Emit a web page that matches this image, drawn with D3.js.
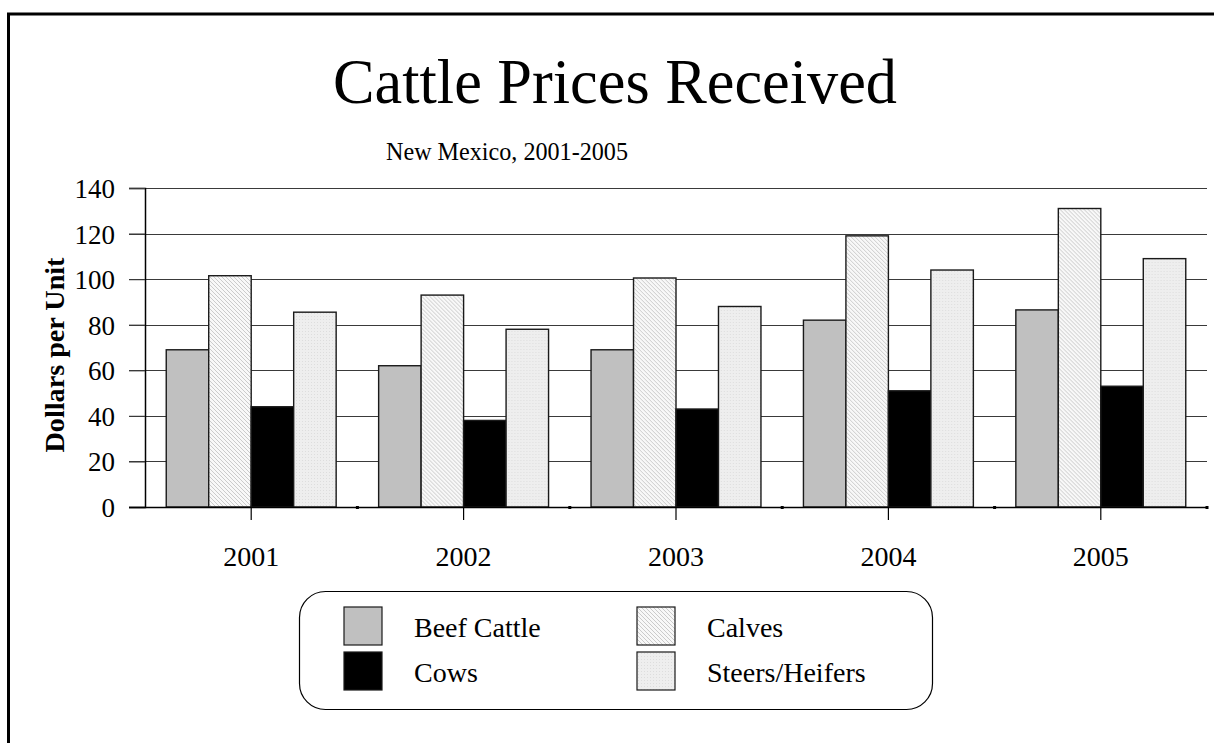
<!DOCTYPE html>
<html>
<head>
<meta charset="utf-8">
<script src="https://cdn.jsdelivr.net/npm/d3@7"></script>
<style>
  body { margin: 0; background: #fff; }
  text { font-family: "Liberation Serif", "DejaVu Serif", serif; fill: #000; }
</style>
</head>
<body>
<svg width="1214" height="743"></svg>
<script>
  const years = ["2001", "2002", "2003", "2004", "2005"];
  const seriesNames = ["Beef Cattle", "Calves", "Cows", "Steers/Heifers"];
  const beefCattle = [69, 62, 69, 82, 86.5];
  const calves = [101.5, 93, 100.5, 119, 131];
  const cows = [44, 38, 43, 51, 53];
  const steersHeifers = [85.5, 78, 88, 104, 109];
  const yTicks = [0, 20, 40, 60, 80, 100, 120, 140];

  const seriesValues = [beefCattle, calves, cows, steersHeifers];
  const fills = ["#c0c0c0", "url(#hatch)", "#000000", "url(#dots)"];

  const svg = d3.select("svg"),
    width = +svg.attr("width"),
    height = +svg.attr("height");

  // patterns for the light bars
  const defs = svg.append("defs");
  let hatch = defs.append("pattern")
    .attr("id", "hatch")
    .attr("patternUnits", "userSpaceOnUse")
    .attr("width", 4).attr("height", 4);
  hatch.append("rect").attr("width", 4).attr("height", 4).attr("fill", "#f8f8f8");
  hatch.append("path").attr("d", "M0,0 L4,4 M-1,3 L1,5 M3,-1 L5,1")
    .attr("stroke", "#cbcbcb").attr("stroke-width", 1);

  let dots = defs.append("pattern")
    .attr("id", "dots")
    .attr("patternUnits", "userSpaceOnUse")
    .attr("width", 3).attr("height", 3);
  dots.append("rect").attr("width", 3).attr("height", 3).attr("fill", "#eeeeee");
  dots.append("rect").attr("x", 1).attr("y", 1).attr("width", 1).attr("height", 1).attr("fill", "#dddddd");

  // outer frame (runs off the page on right and bottom)
  svg.append("rect")
    .attr("x", 8.5).attr("y", 14)
    .attr("width", 1400).attr("height", 900)
    .attr("fill", "none")
    .attr("stroke", "#000")
    .attr("stroke-width", 3);

  // titles
  svg.append("text")
    .attr("x", 615).attr("y", 103)
    .attr("text-anchor", "middle")
    .attr("textLength", 564)
    .attr("lengthAdjust", "spacingAndGlyphs")
    .style("font-size", "64px")
    .text("Cattle Prices Received");

  svg.append("text")
    .attr("x", 507).attr("y", 160)
    .attr("text-anchor", "middle")
    .attr("textLength", 242)
    .attr("lengthAdjust", "spacingAndGlyphs")
    .style("font-size", "25px")
    .text("New Mexico, 2001-2005");

  const x0 = d3.scaleBand().domain(years).range([145, 1207]).padding(0);
  const x1 = d3.scaleBand().domain(seriesNames).range([0, x0.bandwidth()])
    .paddingInner(0).paddingOuter(0.5);
  const y = d3.scaleLinear().domain([0, 140]).range([507, 188]);

  // gridlines + y ticks
  svg.append("g")
    .selectAll("line")
    .data(yTicks.slice(1))
    .enter().append("line")
    .attr("x1", 129).attr("x2", 1207)
    .attr("y1", function(d) { return Math.round(y(d)) + 0.5; })
    .attr("y2", function(d) { return Math.round(y(d)) + 0.5; })
    .attr("stroke", "#3a3a3a")
    .attr("stroke-width", 1.2);

  const yAxis = svg.append("g")
    .attr("transform", "translate(145,0)")
    .call(d3.axisLeft(y).tickValues(yTicks).tickSize(16).tickPadding(14));
  yAxis.select(".domain").attr("stroke", "#000").attr("stroke-width", 1.5);
  yAxis.selectAll(".tick line").attr("stroke", "#3a3a3a").attr("stroke-width", 1.2);
  yAxis.selectAll("text")
    .style("font-family", "'Liberation Serif', serif")
    .style("font-size", "27px")
    .attr("dy", "0.35em");

  svg.append("text")
    .attr("transform", "translate(64,355) rotate(-90)")
    .attr("text-anchor", "middle")
    .attr("textLength", 195)
    .attr("lengthAdjust", "spacingAndGlyphs")
    .style("font-size", "28px")
    .style("font-weight", "bold")
    .text("Dollars per Unit");

  // bars
  let groups = svg.append("g")
    .selectAll("g")
    .data(years)
    .enter().append("g")
    .attr("transform", function(d) { return "translate(" + x0(d) + ",0)"; });

  groups.selectAll("rect")
    .data(function(d, i) {
      return seriesNames.map(function(s, j) {
        return { name: s, value: seriesValues[j][i], fill: fills[j] };
      });
    })
    .enter().append("rect")
    .attr("x", function(d) { return x1(d.name); })
    .attr("y", function(d) { return y(d.value); })
    .attr("width", x1.bandwidth())
    .attr("height", function(d) { return y(0) - y(d.value); })
    .attr("fill", function(d) { return d.fill; })
    .attr("stroke", "#1a1a1a")
    .attr("stroke-width", 1.4);

  // x axis line and ticks
  svg.append("line")
    .attr("x1", 129).attr("x2", 1207)
    .attr("y1", 507.5).attr("y2", 507.5)
    .attr("stroke", "#000").attr("stroke-width", 1.5);

  const xAxis = svg.append("g")
    .attr("transform", "translate(0,507)")
    .call(d3.axisBottom(x0).tickSize(13).tickPadding(26));
  xAxis.select(".domain").remove();
  xAxis.selectAll(".tick line").attr("stroke", "#000").attr("stroke-width", 1.2);
  xAxis.selectAll("text")
    .style("font-family", "'Liberation Serif', serif")
    .style("font-size", "28px");

  // little marks at the band edges
  svg.append("g")
    .selectAll("rect")
    .data(years)
    .enter().append("rect")
    .attr("x", function(d) { return x0(d) + x0.bandwidth() - 1.5; })
    .attr("y", 506)
    .attr("width", 3).attr("height", 3)
    .attr("fill", "#000");

  // legend
  const legend = svg.append("g");
  legend.append("rect")
    .attr("x", 299.5).attr("y", 591.5)
    .attr("width", 633).attr("height", 118)
    .attr("rx", 26).attr("ry", 26)
    .attr("fill", "#fff")
    .attr("stroke", "#000").attr("stroke-width", 1.2);

  const legendPos = [
    { sx: 344, ty: 607 },
    { sx: 637, ty: 607 },
    { sx: 344, ty: 652 },
    { sx: 637, ty: 652 }
  ];

  let items = legend.selectAll("g.item")
    .data(seriesNames)
    .enter().append("g")
    .attr("class", "item")
    .attr("transform", function(d, i) {
      return "translate(" + legendPos[i].sx + "," + legendPos[i].ty + ")";
    });

  items.append("rect")
    .attr("width", 38).attr("height", 38)
    .attr("fill", function(d, i) { return fills[i]; })
    .attr("stroke", "#1a1a1a").attr("stroke-width", 1.2);

  items.append("text")
    .attr("x", 70).attr("y", 30)
    .style("font-size", "28px")
    .text(function(d) { return d; });
</script>
</body>
</html>
